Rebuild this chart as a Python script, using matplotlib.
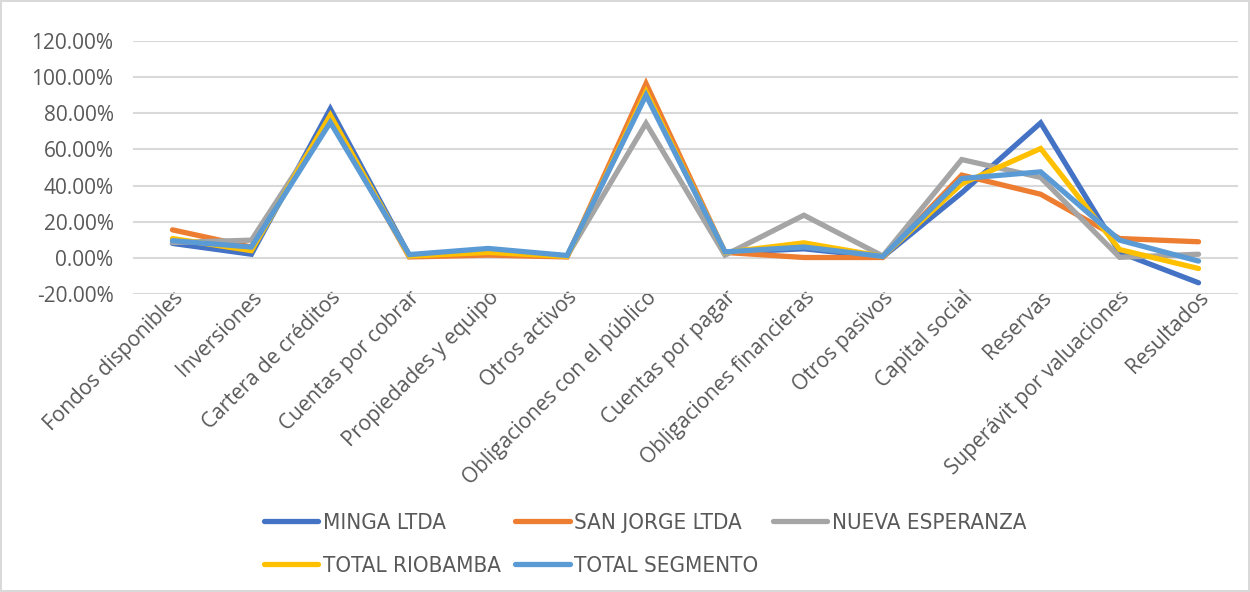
import matplotlib.pyplot as plt
from matplotlib.ticker import FuncFormatter

categories = [
    "Fondos disponibles", "Inversiones", "Cartera de créditos",
    "Cuentas por cobrar", "Propiedades y equipo", "Otros activos",
    "Obligaciones con el público", "Cuentas por pagar",
    "Obligaciones financieras", "Otros pasivos", "Capital social",
    "Reservas", "Superávit por valuaciones", "Resultados",
]

minga = [8.0, 2.0, 82.5, 1.5, 4.0, 1.0, 91.0, 3.0, 5.0, 0.5, 36.0, 74.7, 3.0, -13.8]
san_jorge = [15.5, 6.0, 78.0, 0.5, 1.5, 0.5, 96.5, 3.0, 0.2, 0.2, 45.8, 35.2, 10.7, 8.9]
nueva_esperanza = [8.5, 9.8, 77.0, 1.0, 4.0, 1.0, 74.5, 1.5, 23.6, 1.0, 54.4, 44.5, 0.3, 2.0]
total_riobamba = [10.7, 4.0, 79.0, 1.0, 3.0, 0.8, 92.0, 3.0, 8.3, 0.8, 41.0, 60.5, 4.6, -5.9]
total_segmento = [9.5, 6.0, 75.0, 1.8, 5.2, 1.3, 90.0, 3.3, 6.0, 0.8, 43.9, 47.6, 9.8, -1.8]

series = [
    ("MINGA LTDA", minga, "#4472C4"),
    ("SAN JORGE LTDA", san_jorge, "#ED7D31"),
    ("NUEVA ESPERANZA", nueva_esperanza, "#A5A5A5"),
    ("TOTAL RIOBAMBA", total_riobamba, "#FFC000"),
    ("TOTAL SEGMENTO", total_segmento, "#5B9BD5"),
]

TICK_FONT = ["Open Sans", "DejaVu Sans"]


def main():
    fig = plt.figure(figsize=(12.5, 5.92), dpi=100)
    fig.patch.set_edgecolor("#d9d9d9")
    fig.patch.set_linewidth(1.5)
    ax = fig.add_axes([0.1064, 0.5034, 0.8840, 0.4273])

    x = range(len(categories))
    lines = []
    for name, vals, color in series:
        ln, = ax.plot(x, vals, color=color, linewidth=3.8, label=name,
                      solid_joinstyle="miter", solid_capstyle="round")
        lines.append(ln)

    ax.set_ylim(-20, 120)
    ax.set_yticks(range(-20, 121, 20))
    ax.yaxis.set_major_formatter(FuncFormatter(lambda v, p: f"{v:.2f}%"))
    ax.set_xlim(-0.5, len(categories) - 0.5)
    ax.set_xticks(list(x))
    ax.set_xticklabels(categories, rotation=45, ha="right",
                       rotation_mode="anchor", family=TICK_FONT)
    for lab in ax.get_yticklabels():
        lab.set_family(TICK_FONT)

    ax.tick_params(axis="both", length=0, labelsize=15, colors="#595959")
    ax.tick_params(axis="y", pad=14)
    ax.tick_params(axis="x", pad=-5)
    ax.grid(axis="y", color="#d9d9d9", linewidth=1.5)
    ax.set_axisbelow(True)
    for s in ax.spines.values():
        s.set_visible(False)

    # legend fills column by column, reorder so rows read like the original
    order = [0, 3, 1, 4, 2]
    leg = fig.legend([lines[i] for i in order], [series[i][0] for i in order],
                     loc="upper left", bbox_to_anchor=(0.195, 0.168),
                     ncol=3, frameon=False, handlelength=2.45, handletextpad=0.2,
                     columnspacing=0.65, labelspacing=1.05,
                     prop={"family": "DejaVu Sans", "stretch": "condensed", "size": 16})
    for t in leg.get_texts():
        t.set_color("#595959")

    fig.savefig("out.png", dpi=100)


if __name__ == "__main__":
    main()
